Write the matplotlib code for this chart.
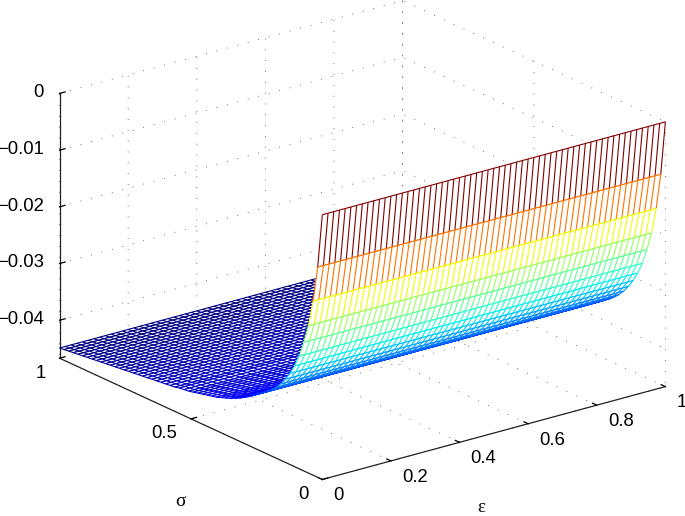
#!/usr/bin/env python3
# mesh of the energy surface over (epsilon, sigma), viewed like matlab's mesh()
import numpy as np
import matplotlib
matplotlib.use("Agg")
import matplotlib.pyplot as plt
from mpl_toolkits.mplot3d.art3d import Line3DCollection, Poly3DCollection

plt.rcParams['font.family'] = ['Liberation Sans', 'DejaVu Sans']

#=============================================================================
# values
#=============================================================================
# surface height along sigma, one value per mesh line (no change along epsilon)
z_profile = [0, -.0096, -.0160, -.0207, -.0240, -.0268, -.0289, -.0306, -.0320, -.0332,
             -.0342, -.0350, -.0357, -.0363, -.0369, -.0375, -.0381, -.0386, -.0391, -.0395,
             -.0399, -.0402, -.0405, -.0408, -.0410, -.0412, -.0414, -.0416, -.0418, -.0420,
             -.0421, -.0422, -.0424, -.0425, -.0426, -.0427, -.0428, -.0429, -.0430, -.0431,
             -.0432, -.0433, -.0434, -.0435, -.0436, -.0437, -.0438, -.0439, -.0440, -.0441,
             -.0442, -.0443, -.0444, -.0445, -.0446, -.0447, -.0448, -.0449]
n_eps_lines = 61

eps_ticks = [0, 0.2, 0.4, 0.6, 0.8, 1]
eps_labels = ['0', '0.2', '0.4', '0.6', '0.8', '1']
sigma_ticks = [0, 0.5, 1]
sigma_labels = ['0', '0.5', '1']
z_ticks = [-0.04, -0.03, -0.02, -0.01, 0]
z_labels = ['\u22120.04', '\u22120.03', '\u22120.02', '\u22120.01', '0']
z_floor = -0.0467

#=============================================================================
# figure and view
#=============================================================================
fig = plt.figure(figsize=(6.85, 5.16), dpi=100)
ax = fig.add_axes([97.5 / 685, 11 / 516, 516 / 685, 1.0], projection='3d',
                  proj_type='ortho', computed_zorder=False)
ax.view_init(elev=20.7, azim=-127.45)
ax.set_box_aspect((1, 1, 0.655), zoom=1.267)
ax.set_xlim(0, 1, view_margin=0)
ax.set_ylim(0, 1, view_margin=0)
ax.set_zlim(z_floor, 0, view_margin=0)

#=============================================================================
# mesh, painted strip by strip from the back so the wall hides what is behind it
#=============================================================================
z = np.array(z_profile)
sigma = np.linspace(0, 1, len(z))
eps = np.linspace(0, 1, n_eps_lines)
colors = plt.cm.jet((z - z.min()) / (z.max() - z.min()))
lw = 0.8

for k in range(len(z) - 2, -1, -1):
    zo = 10 + 2 * (len(z) - k)
    face = [[(0, sigma[k], z[k]), (1, sigma[k], z[k]),
             (1, sigma[k + 1], z[k + 1]), (0, sigma[k + 1], z[k + 1])]]
    poly = Poly3DCollection(face, facecolors='white', edgecolors='none', zorder=zo)
    ax.add_collection3d(poly, autolim=False)
    poly.set_clip_on(False)

    segs = [[(e, sigma[k], z[k]), (e, sigma[k + 1], z[k + 1])] for e in eps]
    segs.append([(0, sigma[k], z[k]), (1, sigma[k], z[k])])
    cols = [colors[k]] * len(segs)
    segs.append([(0, sigma[k + 1], z[k + 1]), (1, sigma[k + 1], z[k + 1])])
    cols.append(colors[k + 1])
    lines = Line3DCollection(segs, colors=cols, linewidths=lw, zorder=zo + 1)
    ax.add_collection3d(lines, autolim=False)
    lines.set_clip_on(False)

#=============================================================================
# axes
#=============================================================================
ax.set_xticks(eps_ticks)
ax.set_xticklabels(eps_labels, fontsize=13.3, ha='left', va='center')
ax.set_yticks(sigma_ticks)
ax.set_yticklabels(sigma_labels, fontsize=13.3, ha='right', va='center')
ax.set_zticks(z_ticks)
ax.set_zticklabels(z_labels, fontsize=13.3, ha='right', va='center')
ax.tick_params(axis='x', pad=0.2)
ax.tick_params(axis='y', pad=0.0)
ax.tick_params(axis='z', pad=-3)

fig.text(481 / 685, 1 - 508 / 516, '\u03b5', fontsize=13.5, family='Liberation Serif',
         ha='center', va='center')
fig.text(181 / 685, 1 - 502 / 516, '\u03c3', fontsize=14, family='Liberation Serif',
         ha='center', va='center')

for axis in (ax.xaxis, ax.yaxis, ax.zaxis):
    axis.set_pane_color((1, 1, 1, 0))
    axis.pane.set_edgecolor('none')
    axis.line.set_color('#222222')
    axis.line.set_linewidth(0.9)
    axis._axinfo['grid'].update(color='#444444', linewidth=0.6, linestyle=(0, (1, 12)))
    axis._axinfo['tick'].update(inward_factor=0.0, outward_factor=0.2)
    axis._axinfo['tick']['linewidth'] = {True: 0.9, False: 0.9}
    axis._axinfo['tick']['color'] = '#222222'

fig.savefig('out.png', dpi=100)
